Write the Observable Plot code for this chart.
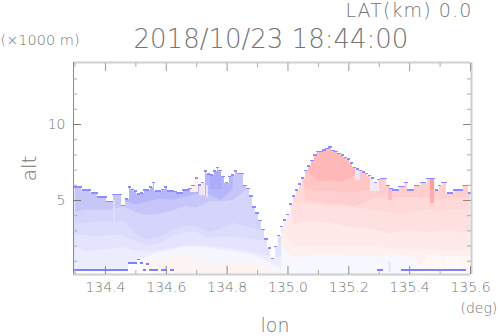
<!DOCTYPE html>
<html><head><meta charset="utf-8">
<script src="https://cdn.jsdelivr.net/npm/d3@7"></script>
<script src="https://cdn.jsdelivr.net/npm/@observablehq/plot@0.6"></script>
<style>html,body{margin:0;padding:0;background:#fff}svg{display:block}</style>
</head><body><div id="c"></div><script>
const xMajor=[134.4,134.6,134.8,135.0,135.2,135.4,135.6];
const xMinor=[134.3,134.5,134.7,134.9,135.1,135.3,135.5];
const yMajor=[5,10];
const yMinor=[1,2,3,4,6,7,8,9,11,12,13];
// surface height per 0.01 deg column, from 134.30
const top_=[5.85,5.85,5.85,5.65,5.65,5.65,5.45,5.45,5.2,5.2,5.2,4.9,4.9,5.35,5.35,5.35,4.65,5.05,5.85,5.7,5.6,5.4,5.45,5.65,5.65,5.85,6.15,5.6,5.6,5.7,5.85,5.6,5.6,5.55,5.45,5.45,5.65,5.65,5.75,5.95,6.45,6.0,6.15,6.9,6.7,6.65,6.9,7.15,6.95,6.55,6.15,6.55,6.65,6.9,6.75,6.75,5.95,5.75,5.25,4.55,4.15,3.65,3.05,2.45,1.85,1.15,1.95,2.65,3.25,3.7,4.05,4.75,5.25,5.65,6.05,6.45,6.95,7.25,7.6,7.95,8.2,8.2,8.3,8.4,8.5,8.25,8.2,8.05,7.95,7.8,7.7,7.45,7.15,7.05,6.95,6.85,6.75,6.6,6.45,6.15,6.35,6.4,6.4,5.95,5.75,5.65,5.65,5.9,5.9,6.15,5.65,5.65,5.95,5.95,6.15,6.15,6.4,6.4,6.4,5.65,5.95,6.15,6.15,5.45,5.45,5.65,5.65,5.65,5.95,5.95,5.45];
const ground=[.4,.4,.4,.4,.4,.4,.4,.4,.4,.4,.4,.4,.4,.4,.4,.4,.4,.4,.87,.87,.87,1.1,.87,.4,.8,.4,.4,.4,0,.4,.4,0,.4,0,0,0,0,0,0,0,0,0,0,0,0,0,0,0,0,0,0,0,0,0,0,0,0,0,0,0,0,0,0,0,0,0,0,0,0,0,0,0,0,0,0,0,0,0,0,0,0,0,0,0,0,0,0,0,0,0,0,0,0,0,0,0,0,0,0,0,.4,.4,0,0,0,0,0,0,.4,.4,.4,.4,.4,.4,.4,.4,.4,.4,.4,.4,.4,.4,.4,.4,.4,.4,.4,.4,.4];
// band tops, western half, per 0.04 deg
const westLon=[134.30,134.34,134.38,134.42,134.46,134.50,134.54,134.58,134.62,134.66,134.70,134.74,134.78,134.82,134.86,134.90,134.94,134.98];
const westDark=[0,0,0,0,5.0,4.7,4.9,5.1,5.0,5.2,5.4,5.4,5.0,5.7,9,9,9,9];
const west1=[4.25,4.35,4.35,4.35,4.6,4.2,4.0,4.1,4.3,4.6,4.5,4.9,4.9,5.0,5.6,9,9,9];
const west2=[3.5,3.5,3.6,3.6,3.6,2.8,2.4,2.6,3.0,3.3,3.25,2.9,3.1,3.5,3.3,3.1,2.8,2.6];
const west3=[2.7,2.7,2.6,2.7,2.7,2.3,2.0,2.2,2.6,2.9,2.9,2.5,2.6,2.6,2.5,2.4,2.3,2.2];
const west4=[1.9,1.6,1.7,1.8,1.9,1.7,1.6,1.7,1.85,2.0,2.05,2.0,1.9,1.8,1.7,1.5,1.3,1.2];
const west5=[0,0,0,0,0.3,1.0,1.3,1.6,1.75,1.9,1.95,1.85,1.75,1.65,1.5,1.3,0.9,0.5];
const west6=[0,0,0,0,0,0.2,1.1,0.9,1.3,1.45,1.2,0.8,0.7,0.9,1.0,0.8,0.5,0];
// band tops, eastern half
const eastLon=[134.98,135.02,135.06,135.10,135.14,135.18,135.22,135.26,135.30,135.34,135.38,135.42,135.46,135.50,135.54,135.58,135.60];
const eastCore=[9,9,7,6.2,6.3,6.2,6.6,9,9,9,9,9,9,9,9,9,9];
const east1=[9,9,5.7,5.6,5.6,5.5,5.5,5.6,5.7,9,9,9,9,9,9,9,9];
const east2=[9,9,5.0,4.9,4.75,4.75,4.55,4.9,5.2,5.2,5.2,5.2,5.2,5.0,5.2,5.2,5.2];
const east3=[9,4.8,4.8,4.7,4.6,4.6,4.5,4.4,4.3,4.2,4.1,4.3,4.4,4.2,4.4,4.4,4.4];
const east4=[9,3.4,3.6,3.6,3.5,3.3,3.2,3.1,3.0,2.8,3.0,3.0,2.9,3.0,3.0,2.9,3.0];
const east5=[3.0,2.0,1.9,2.0,2.0,2.0,1.95,1.9,1.9,1.8,1.8,1.7,1.75,1.7,1.7,1.7,1.7];
const east6=[1.9,1.2,1.3,1.4,1.4,1.4,1.3,1.3,1.3,1.4,1.4,1.2,0,0,0,0,0];
const east7=[0,0,0,0,0,0,0,0,0,0,0,0,1.4,1.3,1.3,1.3,1.3];
// small local features
const patchLon1=[135.468,135.47,134.68,134.71,134.733,135.222,135.27,134.427,135.33,135.33,135.52,135.555,134.745];
const patchLon2=[135.486,135.483,134.705,134.73,134.74,135.24,135.30,134.433,135.343,135.34,135.53,135.565,134.785];
const patchLow=[5.65,4.8,5.5,5.3,5.2,6.3,5.6,3.4,5.0,.25,.3,.3,5.7];
const patchHigh=[6.5,5.65,6.5,6.1,6.0,7.2,6.7,5.0,5.9,.95,1.3,1.3,7.3];
const patchTone=["#ff9c9c","#ffacac","#fdeeee","#f6e6f2","#e4e2fb","#e8e4fa","#f4eaf4","#dcdcfd","#ffbcbc","#e8e8ff","#fffafa","#fffafa","#acacfb"];

const cols=top_.map((v,i)=>({lon:134.30+i*0.01,top:v,ground:ground[i]}));
const half=0.0056,wide=0.0075;
const band=(lons,vals,fill)=>Plot.areaY(lons.map((l,i)=>({l,v:vals[i]})),{x:"l",y1:0.13,y2:"v",fill});
const patches=patchLon1.map((a,i)=>({a,b:patchLon2[i],lo:patchLow[i],hi:patchHigh[i],t:patchTone[i]}));
const ink="#757575";
const label=(s,size,anchor,dx,dy,extra={})=>Plot.text([s],{text:d=>d,frameAnchor:"top-left",textAnchor:anchor,lineAnchor:"bottom",dx,dy,fontSize:size,fill:ink,...extra});
const yLo=0.13,yHi=14.08;

const chart=Plot.plot({
  width:498,height:336,marginLeft:73,marginRight:28,marginTop:62,marginBottom:62,
  style:{fontFamily:"'DejaVu Sans'",fontWeight:200,background:"#fff"},
  x:{domain:[134.295,135.6],axis:null},
  y:{domain:[yLo,yHi],axis:null},
  marks:[
    band(westLon,westLon.map(()=>9),"#c6c6fa"),
    Plot.areaY(westLon.map((l,i)=>({l,v:westDark[i]})).filter(d=>d.v>0&&d.v<9),{x:"l",y1:"v",y2:9,fill:"#b6b6fa"}),
    band(westLon,west1,"#d5d5fc"),
    band(westLon,west2,"#dcdcfd"),
    band(westLon,west3,"#e4e4fe"),
    band(westLon,west4,"#ececff"),
    band(westLon,west5,"#f6f6ff"),
    band(westLon,west6,"#fff4f4"),
    band(eastLon,eastLon.map(()=>9),"#ffb8b8"),
    band(eastLon,eastCore,"#ffc6c6"),
    band(eastLon,east1,"#ffcfcf"),
    band(eastLon,east2,"#ffd8d8"),
    band(eastLon,east3,"#ffe0e0"),
    band(eastLon,east4,"#ffe9e9"),
    band(eastLon,east5,"#fff0f0"),
    band(eastLon,east6,"#f7f7ff"),
    band(eastLon,east7,"#fff6f6"),
    Plot.rect(patches,{x1:"a",x2:"b",y1:"lo",y2:"hi",fill:"t",shapeRendering:"crispEdges"}),
    Plot.rect(cols,{x1:d=>d.lon-wide,x2:d=>d.lon+wide,y1:"top",y2:yHi,fill:"#fff",shapeRendering:"crispEdges"}),
    Plot.rect(cols.filter(d=>d.ground>0),{x1:d=>d.lon-half,x2:d=>d.lon+half,y1:yLo,y2:"ground",fill:"#fff",shapeRendering:"crispEdges"}),
    Plot.rect(cols,{x1:d=>d.lon-half,x2:d=>d.lon+half,y1:d=>d.top-0.05,y2:d=>d.top+0.05,fill:"#8c8cff",shapeRendering:"crispEdges"}),
    Plot.rect(cols.filter(d=>d.ground>0),{x1:d=>d.lon-half,x2:d=>d.lon+half,y1:d=>d.ground-0.05,y2:d=>d.ground+0.03,fill:"#8080ff",shapeRendering:"crispEdges"}),
    // frame
    Plot.ruleY([yHi],{stroke:"#cfcfcf",strokeWidth:2}),
    Plot.ruleY([yLo],{stroke:"#cfcfcf",strokeWidth:2}),
    Plot.ruleX([135.6],{stroke:"#cfcfcf",strokeWidth:2,dx:1}),
    Plot.ruleX([134.295],{stroke:"#8a8a8a",strokeWidth:1}),
    // ticks
    Plot.axisX({anchor:"bottom",ticks:xMajor,tickSize:-8,tickFormat:()=>"",stroke:"#888",label:null}),
    Plot.axisX({anchor:"top",ticks:xMajor,tickSize:-8,tickFormat:()=>"",stroke:"#999",label:null}),
    Plot.axisX({anchor:"bottom",ticks:xMinor,tickSize:-4,tickFormat:()=>"",stroke:"#aaa",label:null}),
    Plot.axisX({anchor:"top",ticks:xMinor,tickSize:-4,tickFormat:()=>"",stroke:"#aaa",label:null}),
    Plot.axisY({anchor:"left",ticks:yMajor,tickSize:-8,tickFormat:()=>"",stroke:"#777",label:null}),
    Plot.axisY({anchor:"right",ticks:yMajor,tickSize:-8,tickFormat:()=>"",stroke:"#888",label:null}),
    Plot.axisY({anchor:"left",ticks:yMinor,tickSize:-4,tickFormat:()=>"",stroke:"#aaa",label:null}),
    Plot.axisY({anchor:"right",ticks:yMinor,tickSize:-4,tickFormat:()=>"",stroke:"#aaa",label:null}),
    // tick labels
    Plot.axisX({anchor:"bottom",ticks:xMajor,tickSize:0,tickPadding:8,tickFormat:".1f",fontSize:14,fill:ink,label:null}),
    Plot.axisY({anchor:"left",ticks:yMajor,tickSize:0,tickPadding:8,tickFormat:"d",fontSize:14,fill:ink,label:null}),
    // titles
    label("2018/10/23 18:44:00",26,"start",60,-15),
    label("LAT(km) 0.0",19,"start",272,-45.5),
    label("(×1000 m)",14.5,"start",-73,-18),
    label("(deg)",14,"start",387,250),
    label("lon",19,"start",187,269),
    Plot.text(["alt"],{text:d=>d,frameAnchor:"left",textAnchor:"middle",rotate:-90,dx:-44,dy:0,fontSize:20,fill:ink})
  ]
});
Array.from(chart.querySelectorAll("text")).filter(t=>t.textContent.startsWith("LAT")).forEach(t=>{t.style.letterSpacing="1.1px";});
document.getElementById("c").append(chart);
</script></body></html>
